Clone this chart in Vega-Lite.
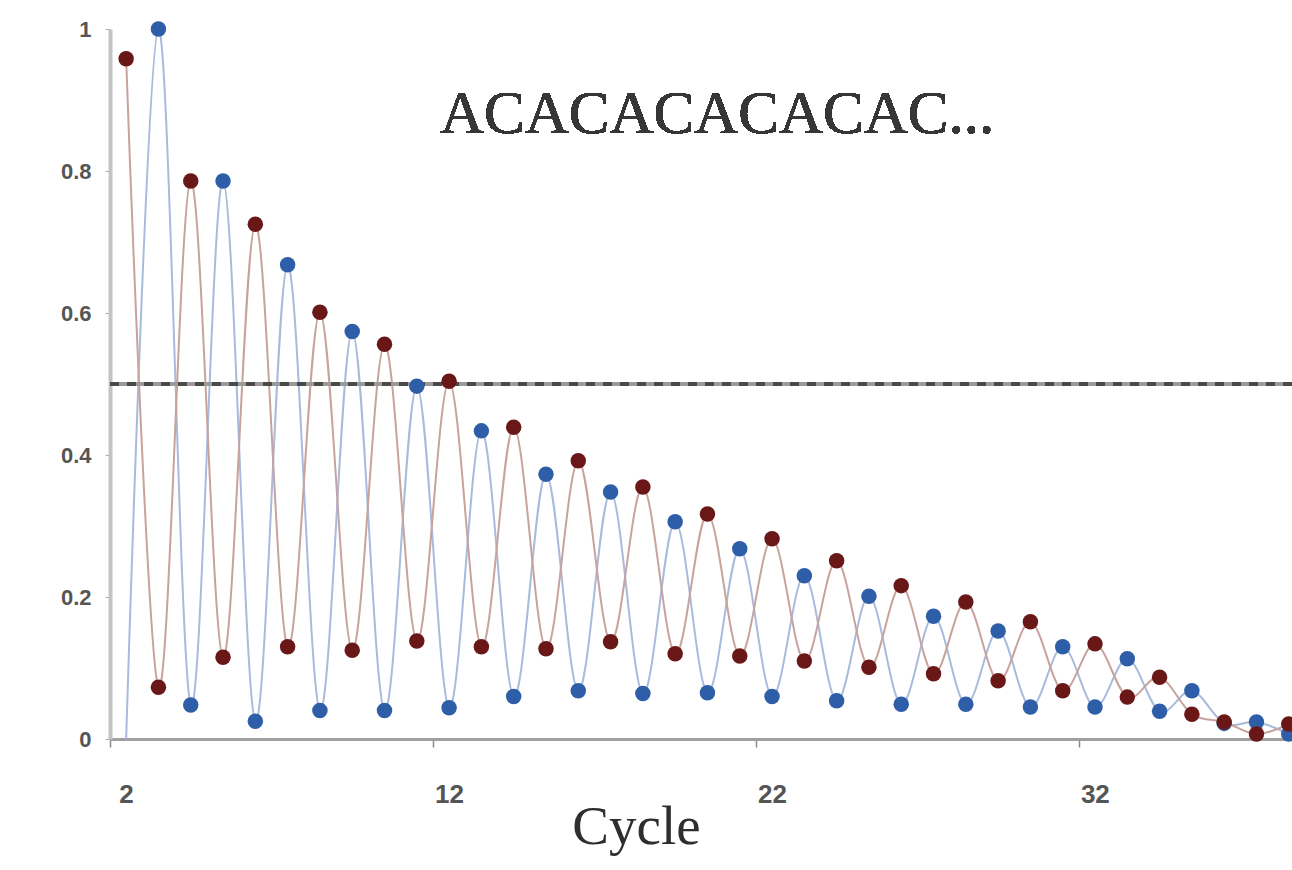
{
  "$schema": "https://vega.github.io/schema/vega-lite/v6.json",
  "autosize": "none",
  "width": 1182,
  "height": 710,
  "padding": {"left": 110, "top": 29, "right": 0, "bottom": 131},
  "background": "white",
  "config": {"view": {"stroke": null}},
  "data": {"values": [
    {"c": 2, "s": "A", "v": 0.0}, {"c": 3, "s": "A", "v": 1.0}, {"c": 4, "s": "A", "v": 0.048}, {"c": 5, "s": "A", "v": 0.786},
    {"c": 6, "s": "A", "v": 0.025}, {"c": 7, "s": "A", "v": 0.668}, {"c": 8, "s": "A", "v": 0.04}, {"c": 9, "s": "A", "v": 0.574},
    {"c": 10, "s": "A", "v": 0.04}, {"c": 11, "s": "A", "v": 0.497}, {"c": 12, "s": "A", "v": 0.044}, {"c": 13, "s": "A", "v": 0.434},
    {"c": 14, "s": "A", "v": 0.06}, {"c": 15, "s": "A", "v": 0.373}, {"c": 16, "s": "A", "v": 0.068}, {"c": 17, "s": "A", "v": 0.348},
    {"c": 18, "s": "A", "v": 0.064}, {"c": 19, "s": "A", "v": 0.306}, {"c": 20, "s": "A", "v": 0.065}, {"c": 21, "s": "A", "v": 0.268},
    {"c": 22, "s": "A", "v": 0.06}, {"c": 23, "s": "A", "v": 0.23}, {"c": 24, "s": "A", "v": 0.054}, {"c": 25, "s": "A", "v": 0.201},
    {"c": 26, "s": "A", "v": 0.049}, {"c": 27, "s": "A", "v": 0.173}, {"c": 28, "s": "A", "v": 0.049}, {"c": 29, "s": "A", "v": 0.152},
    {"c": 30, "s": "A", "v": 0.045}, {"c": 31, "s": "A", "v": 0.13}, {"c": 32, "s": "A", "v": 0.045}, {"c": 33, "s": "A", "v": 0.113},
    {"c": 34, "s": "A", "v": 0.039}, {"c": 35, "s": "A", "v": 0.068}, {"c": 36, "s": "A", "v": 0.022}, {"c": 37, "s": "A", "v": 0.024},
    {"c": 38, "s": "A", "v": 0.007},
    {"c": 2, "s": "C", "v": 0.958}, {"c": 3, "s": "C", "v": 0.073}, {"c": 4, "s": "C", "v": 0.786}, {"c": 5, "s": "C", "v": 0.115},
    {"c": 6, "s": "C", "v": 0.725}, {"c": 7, "s": "C", "v": 0.13}, {"c": 8, "s": "C", "v": 0.601}, {"c": 9, "s": "C", "v": 0.125},
    {"c": 10, "s": "C", "v": 0.556}, {"c": 11, "s": "C", "v": 0.138}, {"c": 12, "s": "C", "v": 0.504}, {"c": 13, "s": "C", "v": 0.13},
    {"c": 14, "s": "C", "v": 0.439}, {"c": 15, "s": "C", "v": 0.127}, {"c": 16, "s": "C", "v": 0.392}, {"c": 17, "s": "C", "v": 0.137},
    {"c": 18, "s": "C", "v": 0.355}, {"c": 19, "s": "C", "v": 0.12}, {"c": 20, "s": "C", "v": 0.317}, {"c": 21, "s": "C", "v": 0.117},
    {"c": 22, "s": "C", "v": 0.282}, {"c": 23, "s": "C", "v": 0.11}, {"c": 24, "s": "C", "v": 0.251}, {"c": 25, "s": "C", "v": 0.101},
    {"c": 26, "s": "C", "v": 0.216}, {"c": 27, "s": "C", "v": 0.092}, {"c": 28, "s": "C", "v": 0.193}, {"c": 29, "s": "C", "v": 0.082},
    {"c": 30, "s": "C", "v": 0.165}, {"c": 31, "s": "C", "v": 0.068}, {"c": 32, "s": "C", "v": 0.134}, {"c": 33, "s": "C", "v": 0.059},
    {"c": 34, "s": "C", "v": 0.087}, {"c": 35, "s": "C", "v": 0.035}, {"c": 36, "s": "C", "v": 0.024}, {"c": 37, "s": "C", "v": 0.007},
    {"c": 38, "s": "C", "v": 0.021}
  ]},
  "encoding": {
    "x": {
      "field": "c", "type": "quantitative",
      "scale": {"domain": [1.5, 38.1], "nice": false, "zero": false},
      "axis": {
        "title": "Cycle",
        "titleFont": "Liberation Serif", "titleFontSize": 55, "titleFontWeight": "normal", "titleColor": "#2e2e2e",
        "titleX": 526, "titleY": 104, "titleAlign": "center", "titleBaseline": "alphabetic", "titleAnchor": null,
        "values": [1.5, 11.5, 21.5, 31.5],
        "labelExpr": "'' + (datum.value + 0.5)",
        "labelOffset": 16, "labelFlush": false, "labelOverlap": false, "labelBound": false,
        "labelFont": "Liberation Sans Narrow, Arial Narrow, Liberation Sans", "labelFontSize": 26, "labelFontWeight": "bold", "labelColor": "#555555",
        "labelPadding": 34,
        "tickSize": 8, "tickColor": "#8a8a8a", "tickWidth": 1.5,
        "domainColor": "#a0a0a0", "domainWidth": 3,
        "grid": false
      }
    },
    "y": {
      "field": "v", "type": "quantitative",
      "scale": {"domain": [0, 1], "nice": false},
      "axis": {
        "title": null,
        "values": [0, 0.2, 0.4, 0.6, 0.8, 1],
        "format": "~g",
        "labelFont": "Liberation Sans", "labelFontSize": 22, "labelFontWeight": "bold", "labelColor": "#555555",
        "labelPadding": 14,
        "tickSize": 5, "tickColor": "#aaaaaa",
        "domainColor": "#c4c4c4", "domainWidth": 4,
        "grid": false
      }
    }
  },
  "layer": [
    {
      "mark": {"type": "line", "interpolate": "cardinal", "tension": 0, "strokeWidth": 2},
      "encoding": {
        "color": {"field": "s", "type": "nominal", "scale": {"domain": ["A", "C"], "range": ["#a7bbdc", "#c8a29c"]}, "legend": null}
      }
    },
    {
      "mark": {"type": "rule", "color": "#9a9a9a", "strokeWidth": 4},
      "encoding": {"y": {"datum": 0.5}, "x": {"datum": 1.5}, "x2": {"datum": 38.1}}
    },
    {
      "mark": {"type": "rule", "color": "#4a4a4a", "strokeWidth": 4, "strokeDash": [9, 8]},
      "encoding": {"y": {"datum": 0.5}, "x": {"datum": 1.5}, "x2": {"datum": 38.1}}
    },
    {
      "transform": [{"filter": "!(datum.s == 'A' && datum.c == 2)"}],
      "mark": {"type": "point", "filled": true, "opacity": 1, "size": 240},
      "encoding": {
        "color": {"field": "s", "type": "nominal", "scale": {"domain": ["A", "C"], "range": ["#2f5ea8", "#6a1717"]}, "legend": null}
      }
    },
    {
      "mark": {"type": "text", "text": "ACACACACACAC...", "font": "Liberation Serif", "fontSize": 61, "align": "left", "baseline": "alphabetic", "color": "#363636"},
      "encoding": {"x": {"datum": 11.72}, "y": {"datum": 0.854}}
    }
  ],
  "resolve": {"scale": {"color": "independent"}}
}
